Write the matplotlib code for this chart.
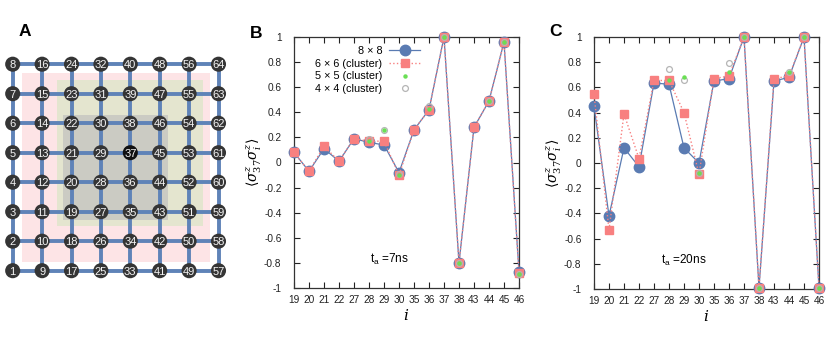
import numpy as np
import matplotlib
matplotlib.use("Agg")
import matplotlib.pyplot as plt
from matplotlib.patches import Rectangle

plt.rcParams['font.family'] = ['Liberation Sans', 'DejaVu Sans']
plt.rcParams['mathtext.fontset'] = 'dejavuserif'

# ---------------- data ----------------
sites = [19, 20, 21, 22, 27, 28, 29, 30, 35, 36, 37, 38, 43, 44, 45, 46]
cluster_sites = [28, 29, 30, 36, 37, 38, 44, 45, 46]

B_8x8 = [0.08, -0.07, 0.11, 0.01, 0.19, 0.16, 0.14, -0.08, 0.26, 0.42, 1.0, -0.80, 0.28, 0.49, 0.96, -0.87]
B_6x6 = [0.08, -0.07, 0.13, 0.01, 0.19, 0.17, 0.17, -0.10, 0.26, 0.42, 1.0, -0.80, 0.28, 0.49, 0.96, -0.88]
B_5x5 = [0.17, 0.26, -0.10, 0.43, 1.0, -0.80, 0.49, 0.96, -0.89]
B_4x4 = [0.19, 0.26, -0.09, 0.45, 1.0, -0.80, 0.49, 0.96, -0.89]

C_8x8 = [0.45, -0.42, 0.12, -0.03, 0.635, 0.625, 0.12, 0.0, 0.65, 0.67, 1.0, -0.99, 0.65, 0.68, 1.0, -0.99]
C_6x6 = [0.545, -0.53, 0.39, 0.035, 0.655, 0.655, 0.40, -0.09, 0.67, 0.69, 1.0, -0.99, 0.67, 0.69, 1.0, -0.99]
C_5x5 = [0.66, 0.68, -0.08, 0.72, 1.0, -0.99, 0.72, 1.0, -0.99]
C_4x4 = [0.75, 0.66, -0.08, 0.79, 1.0, -0.99, 0.72, 1.0, -0.99]

legend_labels = ['8 \u00d7 8', '6 \u00d7 6 (cluster)', '5 \u00d7 5 (cluster)', '4 \u00d7 4 (cluster)']
yticks = [-1, -0.8, -0.6, -0.4, -0.2, 0, 0.2, 0.4, 0.6, 0.8, 1]
ytick_labels = ['-1', '-0.8', '-0.6', '-0.4', '-0.2', '0', '0.2', '0.4', '0.6', '0.8', '1']

grid_n = 8
center_site = 37
# cluster regions in grid units: (low, high)
regions = [((1.31, 7.70), '#fde4e6'), ((2.50, 7.48), '#e4e5cf'), ((2.72, 6.29), '#cbcbc3')]

BLUE = '#5a7bb2'
RED = '#f88080'
GREEN = '#6adf55'
GRAY = '#b5b5b5'
EDGE = '#5f83b8'

W, H = 830, 346
fig = plt.figure(figsize=(W / 100, H / 100), dpi=100)


def rect(l, t, r, b):
    return [l / W, 1 - b / H, (r - l) / W, (b - t) / H]


# ---------------- panel A ----------------
axA = fig.add_axes(rect(0, 0, 230, 346))
axA.set_xlim(1 - 12.7 / 29.4, 1 + (230 - 12.7) / 29.4)
axA.set_ylim(1 - (346 - 270.7) / 29.5, 1 + 270.7 / 29.5)
axA.axis('off')

for (lo, hi), col in regions:
    axA.add_patch(Rectangle((lo, lo), hi - lo, hi - lo, facecolor=col, edgecolor='none', zorder=1))

idx = np.arange(1, grid_n + 1)
for k in idx:
    axA.plot([1, grid_n], [k, k], color=EDGE, lw=2.8, zorder=2, solid_capstyle='butt')
    axA.plot([k, k], [1, grid_n], color=EDGE, lw=2.8, zorder=2, solid_capstyle='butt')

cc, rr = np.meshgrid(idx, idx, indexing='ij')
cc = cc.ravel()
rr = rr.ravel()
nums = grid_n * (cc - 1) + rr
cols = ['#111111' if n == center_site else '#353535' for n in nums]
axA.scatter(cc, rr, s=118, c=cols, edgecolors='none', zorder=3)
for c, r, n in zip(cc, rr, nums):
    axA.text(c, r, str(n), color='#f4f4f4', fontsize=8, ha='center', va='center_baseline', zorder=4)

fig.text(25 / W, 1 - 32 / H, 'A', fontsize=12.5, fontweight='bold', ha='center', va='center')


# ---------------- panels B, C ----------------
def panel(rect_px, v8, v6, v5, v4, tlabel, tpos, show_legend):
    ax = fig.add_axes(rect(*rect_px))
    x = np.arange(len(sites))
    xs = [sites.index(s) for s in cluster_sites]
    ax.plot(x, v8, '-', color=BLUE, lw=0.9, marker='o', ms=7.5, mfc=BLUE, mec=BLUE, zorder=3,
            label=legend_labels[0], clip_on=False)
    ax.plot(x, v6, ':', color=RED, lw=1.0, marker='s', ms=5.5, mfc=RED, mec=RED, zorder=4,
            label=legend_labels[1], clip_on=False)
    ax.plot(xs, v5, 'o', color=GREEN, ms=3.2, mec='none', zorder=6, label=legend_labels[2],
            clip_on=False)
    ax.plot(xs, v4, 'o', mfc='none', mec=GRAY, ms=4.2, mew=0.9, zorder=5, label=legend_labels[3],
            clip_on=False)
    ax.set_xlim(0, len(sites) - 1)
    ax.set_ylim(-1, 1)
    ax.set_xticks(x)
    ax.set_xticklabels([str(s) for s in sites])
    ax.set_yticks(yticks)
    ax.set_yticklabels(ytick_labels)
    ax.tick_params(direction='in', top=True, right=True, length=4, width=0.8,
                   labelsize=7.3, colors='#222222')
    ax.tick_params(axis='y', pad=9)
    ax.tick_params(axis='x', pad=5)
    for sp in ax.spines.values():
        sp.set_linewidth(0.9)
        sp.set_color('#333333')
        sp.set_zorder(2)
    ax.set_xlabel('$i$', fontsize=11, labelpad=2)
    ax.set_ylabel(r'$\langle\sigma^z_{37}\sigma^z_i\rangle$', fontsize=10, labelpad=0)
    ax.text(tpos[0], tpos[1], tlabel, fontsize=8.5, ha='left', va='center')
    if show_legend:
        ax.legend(loc='upper right', bbox_to_anchor=(0.59, 0.99), frameon=False,
                  markerfirst=False, fontsize=7.8, handlelength=2.9, labelspacing=0.25,
                  handletextpad=0.6, borderaxespad=0.2)
    return ax


axB = panel((294, 37, 519, 288), B_8x8, B_6x6, B_5x5, B_4x4,
            't$_\\mathregular{a}$ =7ns', (5.1, -0.77), True)
axC = panel((594, 37, 819, 289), C_8x8, C_6x6, C_5x5, C_4x4,
            't$_\\mathregular{a}$ =20ns', (4.45, -0.77), False)

fig.text(256 / W, 1 - 34 / H, 'B', fontsize=12.5, fontweight='bold', ha='center', va='center')
fig.text(555 / W, 1 - 32 / H, 'C', fontsize=12.5, fontweight='bold', ha='center', va='center')

fig.savefig('out.png', dpi=100)
